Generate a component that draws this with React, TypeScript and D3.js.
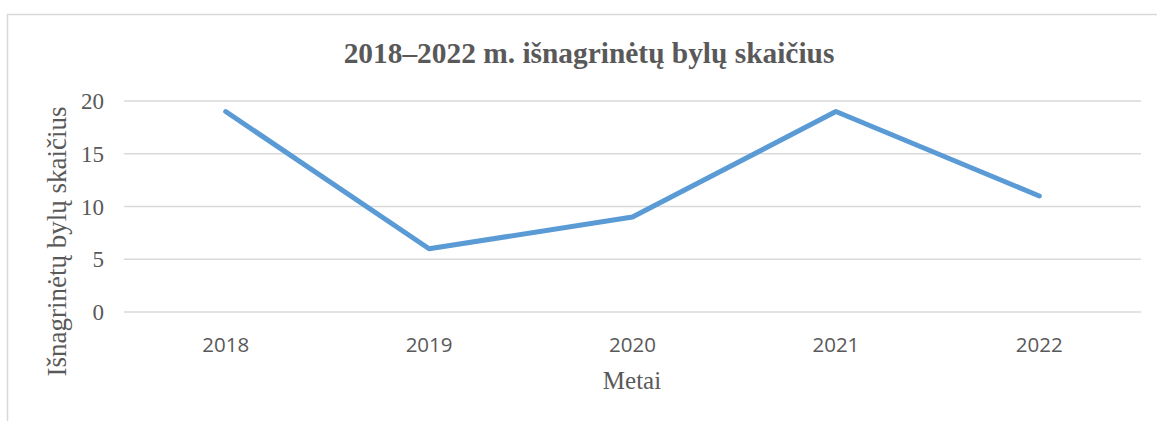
import React from "react";
import * as d3 from "d3";

const years = ["2018", "2019", "2020", "2021", "2022"];
const cases = [19, 6, 9, 19, 11];
const yTicks = [0, 5, 10, 15, 20];
const titleText = "2018–2022 m. išnagrinėtų bylų skaičius";
const yAxisTitle = "Išnagrinėtų bylų skaičius";
const xAxisTitle = "Metai";

const W = 1157;
const H = 421;
const plot = { left: 124, right: 1141, top: 101, bottom: 312 };

export default function App() {
  const x = d3.scaleBand<string>().domain(years).range([plot.left, plot.right]);
  const y = d3.scaleLinear().domain([0, 20]).range([plot.bottom, plot.top]);
  const line = d3
    .line<number>()
    .x((_, i) => (x(years[i]) as number) + x.bandwidth() / 2)
    .y((d) => y(d));
  const serif = "'Liberation Serif', 'Times New Roman', serif";
  const sans = "'Open Sans', 'Noto Sans', sans-serif";
  return (
    <svg width={W} height={H} style={{ position: "absolute", left: 0, top: 0, background: "#fff" }}>
      <rect x={7.5} y={14.5} width={W} height={H} fill="#fff" stroke="#d9d9d9" strokeWidth={1.5} />
      <text x={589} y={63} textAnchor="middle" fontFamily={serif} fontWeight="bold" fontSize={29.4} fill="#595959">
        {titleText}
      </text>
      {yTicks.map((t) => (
        <g key={t}>
          <line x1={plot.left} x2={plot.right} y1={y(t)} y2={y(t)} stroke="#d9d9d9" strokeWidth={1.5} />
          <text x={104} y={y(t) + 8} textAnchor="end" fontFamily={serif} fontSize={23} fill="#595959">
            {t}
          </text>
        </g>
      ))}
      {years.map((yr) => (
        <text
          key={yr}
          x={(x(yr) as number) + x.bandwidth() / 2}
          y={351.5}
          textAnchor="middle"
          fontFamily={sans}
          fontSize={20.5}
          fill="#595959"
        >
          {yr}
        </text>
      ))}
      <path d={line(cases) || ""} fill="none" stroke="#5b9bd5" strokeWidth={5} strokeLinejoin="round" strokeLinecap="round" />
      <text
        transform={`translate(65.5,241.5) rotate(-90)`}
        textAnchor="middle"
        fontFamily={serif}
        fontSize={27}
        fill="#595959"
      >
        {yAxisTitle}
      </text>
      <text x={632} y={389} textAnchor="middle" fontFamily={serif} fontSize={25} fill="#595959">
        {xAxisTitle}
      </text>
    </svg>
  );
}
